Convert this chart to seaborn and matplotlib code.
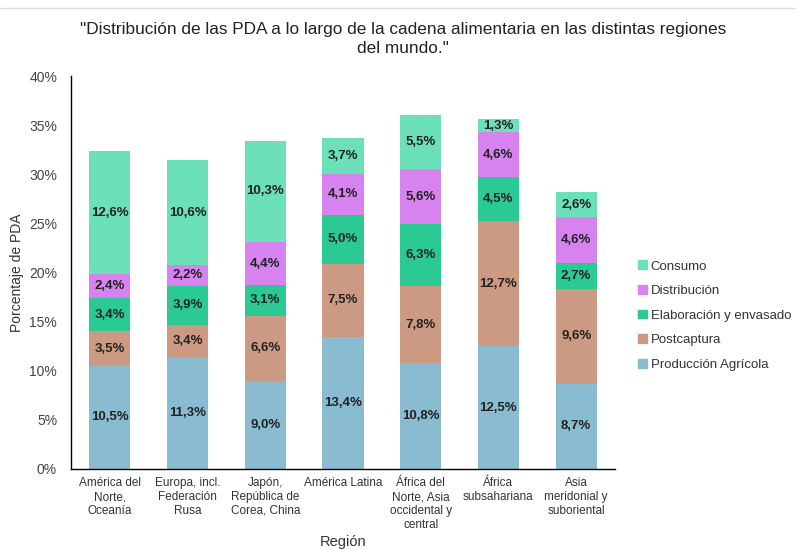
import numpy as np
import pandas as pd
import seaborn as sns
import matplotlib.pyplot as plt
from matplotlib.lines import Line2D
from matplotlib.patches import Patch

# Datos (% de PDA por etapa y region)
regiones = ['América del\nNorte,\nOceanía', 'Europa, incl.\nFederación\nRusa',
            'Japón,\nRepública de\nCorea, China', 'América Latina',
            'África del\nNorte, Asia\noccidental y\ncentral', 'África\nsubsahariana',
            'Asia\nmeridonial y\nsuboriental']
produccion   = [10.5, 11.3, 9.0, 13.4, 10.8, 12.5, 8.7]
postcaptura  = [3.5, 3.4, 6.6, 7.5, 7.8, 12.7, 9.6]
elaboracion  = [3.4, 3.9, 3.1, 5.0, 6.3, 4.5, 2.7]
distribucion = [2.4, 2.2, 4.4, 4.1, 5.6, 4.6, 4.6]
consumo      = [12.6, 10.6, 10.3, 3.7, 5.5, 1.3, 2.6]

etapas = ['Producción Agrícola', 'Postcaptura', 'Elaboración y envasado', 'Distribución', 'Consumo']
colores = ['#89bcd1', '#cc9a83', '#2bc994', '#d683f0', '#6be0b9']

df = pd.DataFrame({'Región': regiones, 'Producción Agrícola': produccion,
                   'Postcaptura': postcaptura, 'Elaboración y envasado': elaboracion,
                   'Distribución': distribucion, 'Consumo': consumo})
acum = df[etapas].cumsum(axis=1)

sns.set_style('white')
plt.rcParams['font.family'] = ['Liberation Sans', 'DejaVu Sans']

fig = plt.figure(figsize=(7.96, 5.5), dpi=100)
ax = fig.add_axes([0.0892, 0.1473, 0.6834, 0.7145])

# barras apiladas: se dibuja el acumulado de arriba hacia abajo
for etapa, color in reversed(list(zip(etapas, colores))):
    sns.barplot(x=df['Región'], y=acum[etapa], color=color, width=0.53,
                saturation=1, linewidth=0, ax=ax)

for i in range(len(regiones)):
    for etapa in etapas:
        v = df.loc[i, etapa]
        y = acum.loc[i, etapa] - v / 2
        ax.text(i, y, f'{v:.1f}%'.replace('.', ','), ha='center', va='center',
                fontsize=9.5, fontweight='bold', color='#222222')

ax.set_ylim(0, 40)
ax.set_xlim(-0.5, len(regiones) - 0.5)
ax.set_yticks(np.arange(0, 41, 5))
ax.set_yticklabels([f'{t}%' for t in range(0, 41, 5)], fontsize=10, color='#444444')
ax.tick_params(axis='y', length=0, pad=10)
ax.tick_params(axis='x', length=0, pad=6, labelsize=8.5, labelcolor='#333333')
ax.set_ylabel('Porcentaje de PDA', fontsize=10, color='#333333')
ax.yaxis.set_label_coords(-0.086, 0.5)
ax.set_xlabel('Región', fontsize=10.5, color='#333333')
ax.xaxis.set_label_coords(0.5, -0.168)
for s in ['top', 'right']:
    ax.spines[s].set_visible(False)
for s in ['left', 'bottom']:
    ax.spines[s].set_color('black')
    ax.spines[s].set_linewidth(1)

fig.text(0.506, 0.96, '"Distribución de las PDA a lo largo de la cadena alimentaria en las distintas regiones\ndel mundo."',
         ha='center', va='top', fontsize=12.4, color='#222222', linespacing=1.35)
fig.add_artist(Line2D([0, 1], [0.985, 0.985], color='#dddddd', linewidth=1))

handles = [Patch(color=c, label=e) for e, c in zip(etapas, colores)][::-1]
fig.legend(handles=handles, loc='upper left', bbox_to_anchor=(0.787, 0.548),
           frameon=False, fontsize=9.5, handlelength=0.65, handleheight=0.65,
           handletextpad=0.3, labelspacing=0.95, labelcolor='#333333')

fig.savefig('out.png', dpi=100)
